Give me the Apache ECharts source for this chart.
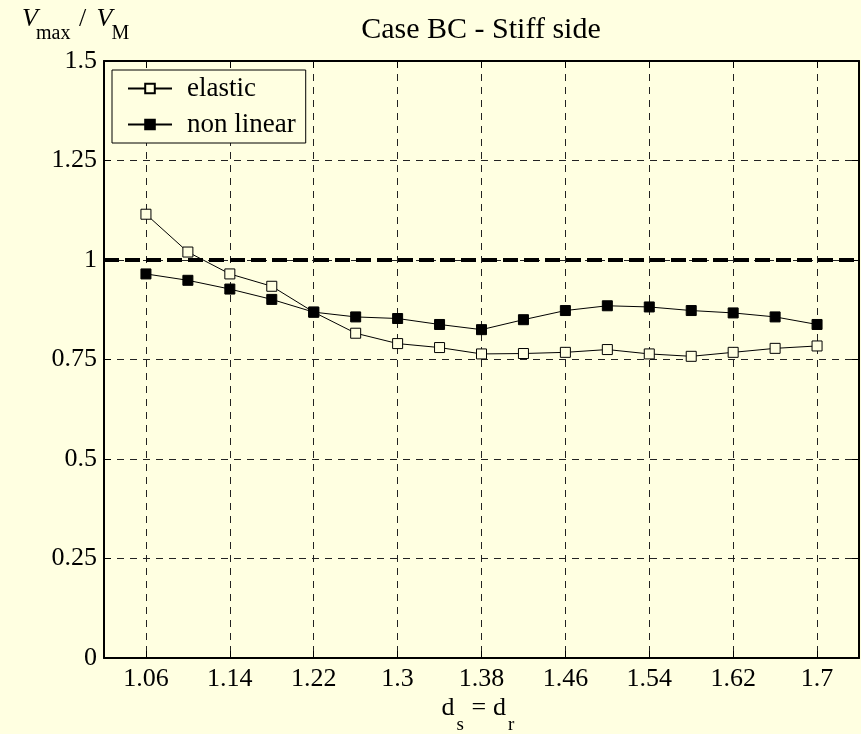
<!DOCTYPE html>
<html><head><meta charset="utf-8">
<script src="https://cdn.jsdelivr.net/npm/echarts@6/dist/echarts.min.js"></script>
<style>html,body{margin:0;padding:0;background:#FFFFE1;} #c{width:861px;height:734px;}</style>
</head><body><div id="c"></div>
<script>
// ---- data ----
const xValues = [1.06, 1.10, 1.14, 1.18, 1.22, 1.26, 1.30, 1.34, 1.38, 1.42, 1.46, 1.50, 1.54, 1.58, 1.62, 1.66, 1.70];
const elastic = [1.115, 1.020, 0.965, 0.934, 0.869, 0.816, 0.790, 0.780, 0.764, 0.765, 0.768, 0.775, 0.764, 0.758, 0.768, 0.778, 0.784];
const nonLinear = [0.965, 0.949, 0.927, 0.901, 0.869, 0.857, 0.853, 0.838, 0.825, 0.850, 0.873, 0.885, 0.882, 0.873, 0.867, 0.857, 0.838];
const xTicks = [1.06, 1.14, 1.22, 1.3, 1.38, 1.46, 1.54, 1.62, 1.7];
const seriesNames = ['elastic', 'non linear'];
const referenceLevel = 1;
const titleText = 'Case BC - Stiff side';

// ---- style ----
const FONT = '"Liberation Serif", "Times New Roman", serif';
const BG = '#FFFFE1';
const frameLine = { show: true, onZero: false, lineStyle: { color: '#000', width: 2 } };
const gridDash = { color: '#222', width: 1, type: [7, 6] };

const chart = echarts.init(document.getElementById('c'), null, { renderer: 'canvas' });

function txt(text, x, y, size, italic, align) {
  return { type: 'text', x: x, y: y, silent: true,
    style: { text: text, fill: '#000', font: (italic ? 'italic ' : '') + size + 'px ' + FONT,
      textAlign: align || 'left', textVerticalAlign: 'middle' } };
}

const option = {
  backgroundColor: BG,
  animation: false,
  grid: { left: 104, right: 2, top: 61, bottom: 76 },
  xAxis: [{
    type: 'value', min: 1.02, max: 1.74, position: 'bottom',
    axisLine: frameLine,
    axisTick: { show: true, inside: true, length: 7, customValues: xTicks, lineStyle: { color: '#000', width: 1 } },
    axisLabel: { customValues: xTicks, color: '#000', fontFamily: FONT, fontSize: 26, margin: 8 },
    splitLine: { show: true, lineStyle: gridDash }
  }, {
    type: 'value', min: 1.02, max: 1.74, position: 'top',
    axisLine: frameLine,
    axisTick: { show: true, inside: true, length: 7, customValues: xTicks, lineStyle: { color: '#000', width: 1 } },
    axisLabel: { show: false, customValues: xTicks },
    splitLine: { show: false }
  }],
  yAxis: [{
    type: 'value', min: 0, max: 1.5, interval: 0.25, position: 'left',
    axisLine: frameLine,
    axisTick: { show: true, inside: true, length: 7, lineStyle: { color: '#000', width: 1 } },
    axisLabel: { color: '#000', fontFamily: FONT, fontSize: 26, margin: 7 },
    splitLine: { show: true, lineStyle: gridDash }
  }, {
    type: 'value', min: 0, max: 1.5, interval: 0.25, position: 'right',
    axisLine: frameLine,
    axisTick: { show: true, inside: true, length: 7, lineStyle: { color: '#000', width: 1 } },
    axisLabel: { show: false },
    splitLine: { show: false }
  }],
  legend: {
    orient: 'vertical', left: 112, top: 70,
    data: seriesNames,
    backgroundColor: BG, borderColor: '#000', borderWidth: 1, borderRadius: 0,
    padding: [5, 10, 5, 15],
    itemWidth: 44, itemHeight: 12, itemGap: 9,
    textStyle: { fontFamily: FONT, fontSize: 27, color: '#000', padding: [0, 0, 0, 10] }
  },
  graphic: [
    txt(titleText, 481, 30.6, 30, false, 'center'),
    txt('V', 22, 19.5, 26, true),
    txt('max', 36, 33.3, 20, false),
    txt('/', 79, 19.5, 26, false),
    txt('V', 96.5, 19.5, 26, true),
    txt('M', 111.5, 33.3, 20, false),
    txt('d', 441.5, 708, 26, false),
    txt('s', 456.5, 725, 19, false),
    txt('=', 471.5, 708, 26, false),
    txt('d', 493, 708, 26, false),
    txt('r', 508, 725, 19, false)
  ],
  series: [{
    name: seriesNames[0], type: 'line', z: 3,
    data: xValues.map((x, i) => [x, elastic[i]]),
    symbol: 'rect', symbolSize: 10, showAllSymbol: true,
    lineStyle: { color: '#000', width: 1 },
    itemStyle: { color: BG, borderColor: '#000', borderWidth: 1 },
    markLine: {
      silent: true, symbol: 'none', label: { show: false },
      lineStyle: { color: '#000', width: 4, type: [15, 6] },
      data: [{ yAxis: referenceLevel }]
    }
  }, {
    name: seriesNames[1], type: 'line', z: 4,
    data: xValues.map((x, i) => [x, nonLinear[i]]),
    symbol: 'rect', symbolSize: 10, showAllSymbol: true,
    lineStyle: { color: '#000', width: 1 },
    itemStyle: { color: '#000', borderColor: '#000', borderWidth: 1 }
  }]
};
chart.setOption(option);
</script></body></html>
